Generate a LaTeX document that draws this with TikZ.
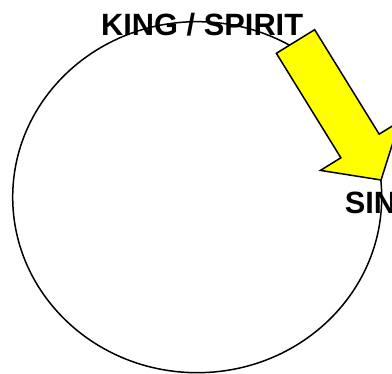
\documentclass[tikz,border=0pt]{standalone}
\usepackage{fontspec}
\setmainfont{Liberation Sans}
\definecolor{arrowfill}{RGB}{255,255,0}
\tikzset{
  ring/.style={draw, line width=1.5pt},
  bigarrow/.style={draw, fill=arrowfill, line width=1.5pt, line join=miter},
  steplabel/.style={font=\fontsize{30.8}{36}\selectfont\bfseries, inner sep=0pt, anchor=base west},
}

\begin{document}
\begin{tikzpicture}[x=1pt, y=1pt]
\useasboundingbox (0,0) rectangle (392,374);
% the cycle
\draw[ring] (197.2,176.8) ellipse [x radius=184.5, y radius=175.5];
% block arrow towards the next step
\begin{scope}[shift={(295.5,332.5)}, rotate=-58.3]
  \draw[bigarrow] (0,22.5) -- (122.8,22.5) -- (122.8,46.5) -- (162.8,0)
    -- (122.8,-46.5) -- (122.8,-22.5) -- (0,-22.5) -- cycle;
\end{scope}
\node[steplabel] (king) at (101,338) {KING / SPIRIT};
\node[steplabel] (sin) at (344.6,160.7) {SIN};
\end{tikzpicture}
\end{document}
